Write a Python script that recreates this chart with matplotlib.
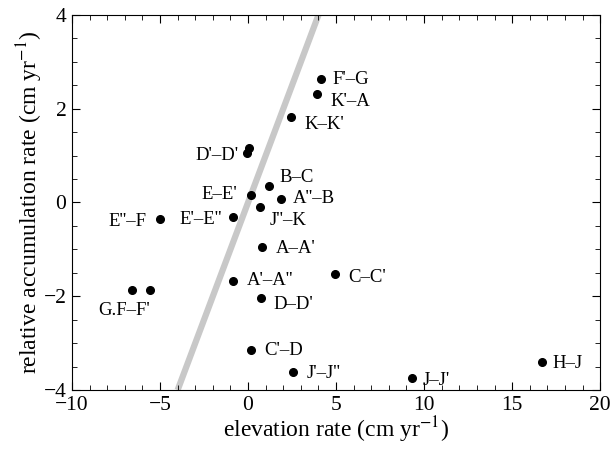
import matplotlib
matplotlib.use('Agg')
import matplotlib.pyplot as plt
from matplotlib.ticker import MultipleLocator

plt.rcParams['font.family'] = ['Liberation Serif', 'DejaVu Serif']
plt.rcParams['mathtext.fontset'] = 'stix'

# data
names = ["F'–G", "K'–A", "K–K'", "D'–D'", "", "B–C", "E–E'", "A''–B", "J''–K",
         "E'–E''", "E''–F", "A–A'", "C–C'", "A'–A''", "G.F–F'", "", "D–D'",
         "C'–D", "J'–J''", "J–J'", "H–J"]
elev = [4.15, 3.92, 2.44, -0.06, 0.07, 1.21, 0.17, 1.88, 0.70,
        -0.87, -5.02, 0.81, 4.96, -0.87, -6.61, -5.57, 0.72,
        0.15, 2.58, 9.30, 16.67]
accum = [2.63, 2.31, 1.83, 1.06, 1.17, 0.35, 0.16, 0.08, -0.10,
         -0.30, -0.36, -0.94, -1.52, -1.67, -1.87, -1.87, -2.04,
         -3.15, -3.62, -3.75, -3.41]
# label offsets in pixels (dx, dy) and alignment
offsets = [(11, 0, 'left'), (13, -7, 'left'), (13, -8, 'left'), (-8, -3, 'right'),
           (0, 0, 'left'), (10, 9, 'left'), (-14, 0, 'right'), (12, 0, 'left'),
           (9, -13, 'left'), (-11, -3, 'right'), (-13, -2, 'right'), (13, -2, 'left'),
           (13, -4, 'left'), (14, 0, 'left'), (-8, -20, 'center'), (0, 0, 'left'),
           (13, -6, 'left'), (14, 0, 'left'), (13, -1, 'left'), (11, -2, 'left'),
           (11, -1, 'left')]
line_x = [-4, 4]
line_y = [-4, 4]

fig = plt.figure(figsize=(6.13, 4.49), dpi=100)
ax = fig.add_axes([0.1175, 0.1314, 0.8615, 0.8352])

ax.plot(line_x, line_y, color='#c8c8c8', lw=4.5, solid_capstyle='butt', zorder=1)
ax.plot(elev, accum, 'o', color='black', ms=5.5, zorder=3)

for n, x, y, (dx, dy, ha) in zip(names, elev, accum, offsets):
    if n:
        ax.annotate(n, (x, y), xytext=(dx, dy), textcoords='offset pixels',
                    ha=ha, va='center', fontsize=13.5)

ax.set_xlim(-10, 20)
ax.set_ylim(-4, 4)
ax.xaxis.set_major_locator(MultipleLocator(5))
ax.xaxis.set_minor_locator(MultipleLocator(1))
ax.yaxis.set_major_locator(MultipleLocator(2))
ax.yaxis.set_minor_locator(MultipleLocator(0.5))
ax.tick_params(which='both', direction='in', top=True, right=True, labelsize=15.5)
ax.tick_params(which='major', length=6, pad=4)
ax.tick_params(which='minor', length=3.5)

ax.set_xlabel('elevation rate (cm yr$^{-1}$)', fontsize=17, labelpad=0)
ax.set_ylabel('relative accumulation rate (cm yr$^{-1}$)', fontsize=17, labelpad=-1)

fig.savefig('out.png', dpi=100)
